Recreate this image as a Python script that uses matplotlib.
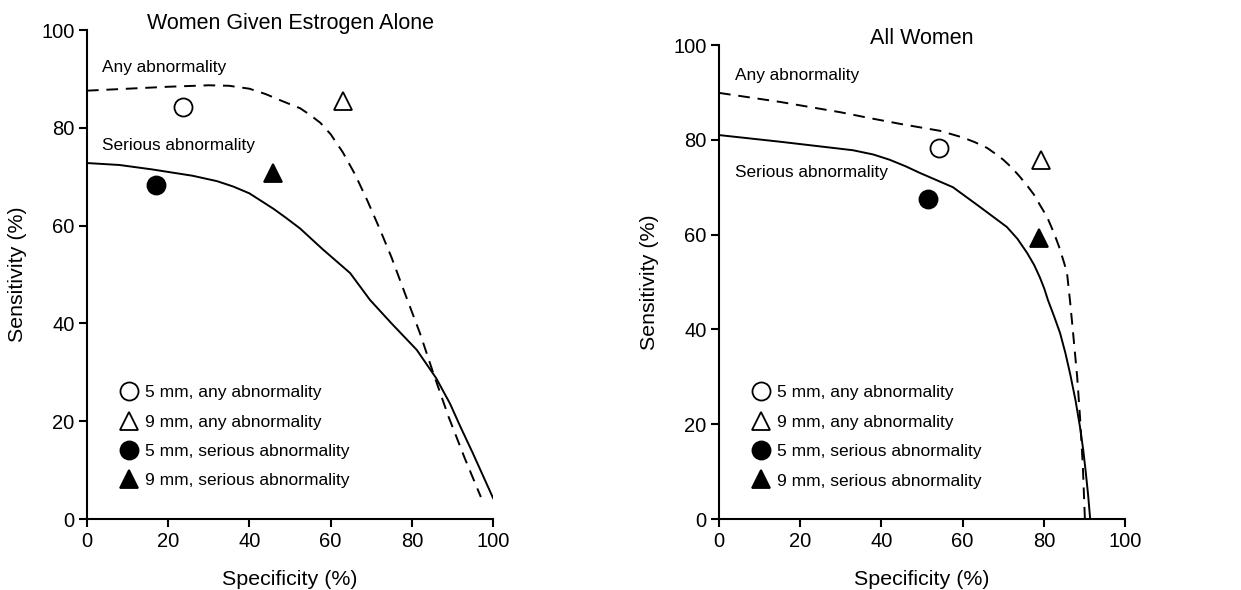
import matplotlib.pyplot as plt
from matplotlib.lines import Line2D

plt.rcParams['font.family'] = ['Liberation Sans', 'DejaVu Sans']

# Women given estrogen alone
est_any_spec = [0, 10, 20, 30, 35, 40, 44, 48, 52.5, 55, 57.5, 60, 63, 66, 69, 72, 75, 78, 82, 85.3, 89, 93, 97]
est_any_sens = [87.6, 88.0, 88.4, 88.7, 88.6, 88.0, 86.9, 85.5, 84.0, 82.6, 81.0, 78.7, 75.0, 70.5, 65.2, 59.5, 53.5, 46.8, 38.0, 29.8, 21.0, 12.5, 4.5]
est_ser_spec = [0, 8, 16, 26, 32, 36, 40, 43, 46, 49, 52.5, 58, 64.8, 69.7, 75, 81.2, 86, 89.4, 92, 95, 100]
est_ser_sens = [72.8, 72.4, 71.5, 70.2, 69.1, 68.0, 66.6, 65.0, 63.4, 61.6, 59.4, 55.2, 50.3, 44.8, 40.0, 34.6, 28.8, 23.6, 18.8, 13.5, 4.3]
est_pts_spec = [23.7, 63, 17, 45.8]
est_pts_sens = [84.2, 85.5, 68.3, 70.7]

# All women
all_any_spec = [0, 15, 30, 37, 45, 54.4, 60, 63, 66, 68, 70, 72, 74.1, 76, 77.5, 79, 80.8, 82.5, 83.8, 85, 85.7, 86.5, 87.2, 88.2, 88.9, 89.6, 90.1]
all_any_sens = [89.9, 88.0, 85.8, 84.6, 83.3, 81.9, 80.5, 79.5, 78.3, 77.1, 75.8, 74.2, 72.2, 70.2, 68.5, 66.3, 63.7, 60.3, 57.3, 54.0, 51.9, 45.5, 39.2, 30.0, 21.5, 11.0, 0]
all_ser_spec = [0, 15, 33, 38, 42, 46, 49.5, 57.6, 64, 70.9, 73.5, 75.9, 77.6, 79, 80.1, 81, 82.5, 84, 85.3, 86.5, 87.8, 88.9, 89.7, 90.3, 90.9, 91.4]
all_ser_sens = [81.0, 79.6, 77.8, 76.9, 75.8, 74.4, 73.0, 70.0, 66.0, 61.6, 59.1, 56.1, 53.6, 51.0, 48.6, 46.2, 42.8, 39.2, 35.0, 30.5, 25.0, 19.4, 14.5, 10.0, 5.0, 0]
all_pts_spec = [54.2, 79.3, 51.5, 78.8]
all_pts_sens = [78.3, 75.7, 67.5, 59.3]

legend_labels = ['5 mm, any abnormality', '9 mm, any abnormality',
                 '5 mm, serious abnormality', '9 mm, serious abnormality']
markers = ['o', '^', 'o', '^']
faces = ['white', 'white', 'black', 'black']

fig = plt.figure(figsize=(12.41, 5.90), dpi=100)
ax1 = fig.add_axes([0.0701, 0.1203, 0.3272, 0.8288])
ax2 = fig.add_axes([0.5794, 0.1203, 0.3272, 0.8034])

panels = [
    (ax1, 'Women Given Estrogen Alone', est_any_spec, est_any_sens, est_ser_spec, est_ser_sens,
     est_pts_spec, est_pts_sens, (3.7, 92.4), (3.7, 76.3), 0.288),
    (ax2, 'All Women', all_any_spec, all_any_sens, all_ser_spec, all_ser_sens,
     all_pts_spec, all_pts_sens, (4, 93.5), (4, 73.0), 0.297),
]

for ax, title, a_x, a_y, s_x, s_y, px, py, any_pos, ser_pos, leg_y in panels:
    ax.plot(a_x, a_y, color='black', lw=1.4, ls=(0, (6, 4)))
    ax.plot(s_x, s_y, color='black', lw=1.4)
    for x, y, m, f in zip(px, py, markers, faces):
        ax.plot(x, y, marker=m, ms=13, mfc=f, mec='black', mew=1.3, ls='none')
    ax.text(any_pos[0], any_pos[1], 'Any abnormality', fontsize=12.4, va='center')
    ax.text(ser_pos[0], ser_pos[1], 'Serious abnormality', fontsize=12.4, va='center')
    ax.set_xlim(0, 100)
    ax.set_ylim(0, 100)
    ax.set_xticks([0, 20, 40, 60, 80, 100])
    ax.set_yticks([0, 20, 40, 60, 80, 100])
    ax.tick_params(labelsize=14.5, width=1.5, length=6, direction='out', pad=3)
    for side in ['top', 'right']:
        ax.spines[side].set_visible(False)
    for side in ['left', 'bottom']:
        ax.spines[side].set_linewidth(1.5)
    ax.set_xlabel('Specificity (%)', fontsize=15.4, labelpad=14)
    ax.set_ylabel('Sensitivity (%)', fontsize=15.4, labelpad=10)
    ax.set_title(title, fontsize=15.5, y=1.0, pad=1)
    handles = [Line2D([], [], marker=m, ms=13, mfc=f, mec='black', mew=1.3, ls='none')
               for m, f in zip(markers, faces)]
    ax.legend(handles, legend_labels, loc='upper left', bbox_to_anchor=(0.06, leg_y),
              frameon=False, fontsize=12.5, handletextpad=0.35, labelspacing=0.82,
              handlelength=1.2, borderaxespad=0)

fig.savefig('out.png', dpi=100)
